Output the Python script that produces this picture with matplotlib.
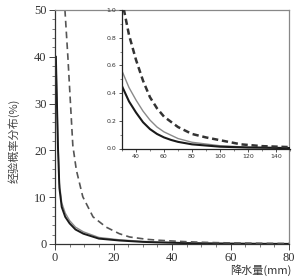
import matplotlib
matplotlib.use("Agg")
import matplotlib.pyplot as plt
from matplotlib.ticker import MultipleLocator

# Data (precipitation mm vs empirical probability %)
x_black = [0.3, 1.0, 1.5, 2.3, 3.5, 5, 7, 9.7, 15, 22, 30, 35, 40, 45, 50, 55, 60, 65, 70, 80, 100, 120, 150]
y_black = [40, 21, 12, 7.9, 5.8, 4.4, 3.1, 2.2, 1.15, 0.75, 0.45, 0.34, 0.26, 0.19, 0.14, 0.105, 0.08, 0.062, 0.048, 0.03, 0.013, 0.007, 0.003]
x_gray = [0.3, 1.0, 1.5, 2.3, 3.5, 5, 7, 9.7, 15, 22, 30, 35, 40, 45, 50, 55, 60, 70, 80, 100, 120, 150]
y_gray = [40, 22, 13, 8.8, 6.6, 5.0, 3.6, 2.6, 1.4, 0.9, 0.56, 0.44, 0.35, 0.27, 0.205, 0.155, 0.12, 0.072, 0.045, 0.02, 0.01, 0.005]
x_dash = [3.4, 4.4, 5.2, 6.1, 7.3, 9.5, 13, 17.5, 22, 25.5, 31.4, 35, 40, 45, 50, 55, 60, 70, 80, 90, 100, 115, 130, 150]
y_dash = [50, 40, 31, 21, 15.8, 10.1, 5.8, 3.6, 2.2, 1.5, 1.0, 0.82, 0.64, 0.49, 0.37, 0.29, 0.23, 0.155, 0.105, 0.08, 0.06, 0.03, 0.017, 0.01]

main_xticks = [0, 20, 40, 60, 80]
main_yticks = [0, 10, 20, 30, 40, 50]
inset_xticks = [40, 60, 80, 100, 120, 140]
inset_yticks = [0.0, 0.2, 0.4, 0.6, 0.8, 1.0]

cjk = ['Noto Sans CJK SC', 'DejaVu Sans']
serif = 'Liberation Serif'

fig = plt.figure(figsize=(3.0, 2.8), dpi=100)
ax = fig.add_axes([55/300, 1-244/280, 234/300, 234/280])
ax.plot(x_gray, y_gray, color='#8a8a8a', lw=1.0)
ax.plot(x_black, y_black, color='#1a1a1a', lw=1.4)
ax.plot(x_dash, y_dash, color='#555555', lw=1.2, ls=(0, (4, 2.5)))
ax.set_xlim(0, 80)
ax.set_ylim(0, 50)
ax.set_xticks(main_xticks)
ax.set_yticks(main_yticks)
ax.xaxis.set_minor_locator(MultipleLocator(5))
ax.yaxis.set_minor_locator(MultipleLocator(2))
ax.tick_params(which='major', length=4, width=0.7, color='#444444', labelsize=9, pad=2)
ax.tick_params(which='minor', length=2, width=0.6, color='#666666')
for lab in ax.get_xticklabels() + ax.get_yticklabels():
    lab.set_fontfamily(serif)
    lab.set_color('#333333')
for s in ['left', 'bottom']:
    ax.spines[s].set_color('#333333')
    ax.spines[s].set_linewidth(0.9)
for s in ['top', 'right']:
    ax.spines[s].set_color('#888888')
    ax.spines[s].set_linewidth(0.9)
ax.set_ylabel('经验概率分布(%)', family=cjk, fontsize=8, color='#444444')
ax.yaxis.set_label_coords(-0.15, 0.44)
ax.text(1.01, -0.11, '降水量(mm)', transform=ax.transAxes, ha='right', va='center',
        family=cjk, fontsize=8, color='#333333')

ins = fig.add_axes([122/300, 1-148.5/280, 168/300, 138.5/280])
ins.plot(x_gray, y_gray, color='#8a8a8a', lw=1.0)
ins.plot(x_black, y_black, color='#1a1a1a', lw=1.5)
ins.plot(x_dash, y_dash, color='#333333', lw=1.8, ls=(0, (2.5, 1.5)))
ins.set_xlim(30, 150)
ins.set_ylim(0, 1.0)
ins.set_xticks(inset_xticks)
ins.set_yticks(inset_yticks)
ins.set_xticklabels([str(v) for v in inset_xticks])
ins.set_yticklabels(['%.1f' % v for v in inset_yticks])
ins.xaxis.set_minor_locator(MultipleLocator(10))
ins.yaxis.set_minor_locator(MultipleLocator(0.1))
ins.tick_params(which='major', length=2.5, width=0.6, labelsize=4.5, pad=1.5, color='#333333')
ins.tick_params(which='minor', length=1.5, width=0.5, color='#555555')
for lab in ins.get_xticklabels() + ins.get_yticklabels():
    lab.set_color('#333333')
ins.patch.set_alpha(0)
for s in ['left', 'bottom']:
    ins.spines[s].set_color('#222222')
    ins.spines[s].set_linewidth(0.9)
for s in ['top', 'right']:
    ins.spines[s].set_visible(False)

fig.savefig('out.png', dpi=100)
